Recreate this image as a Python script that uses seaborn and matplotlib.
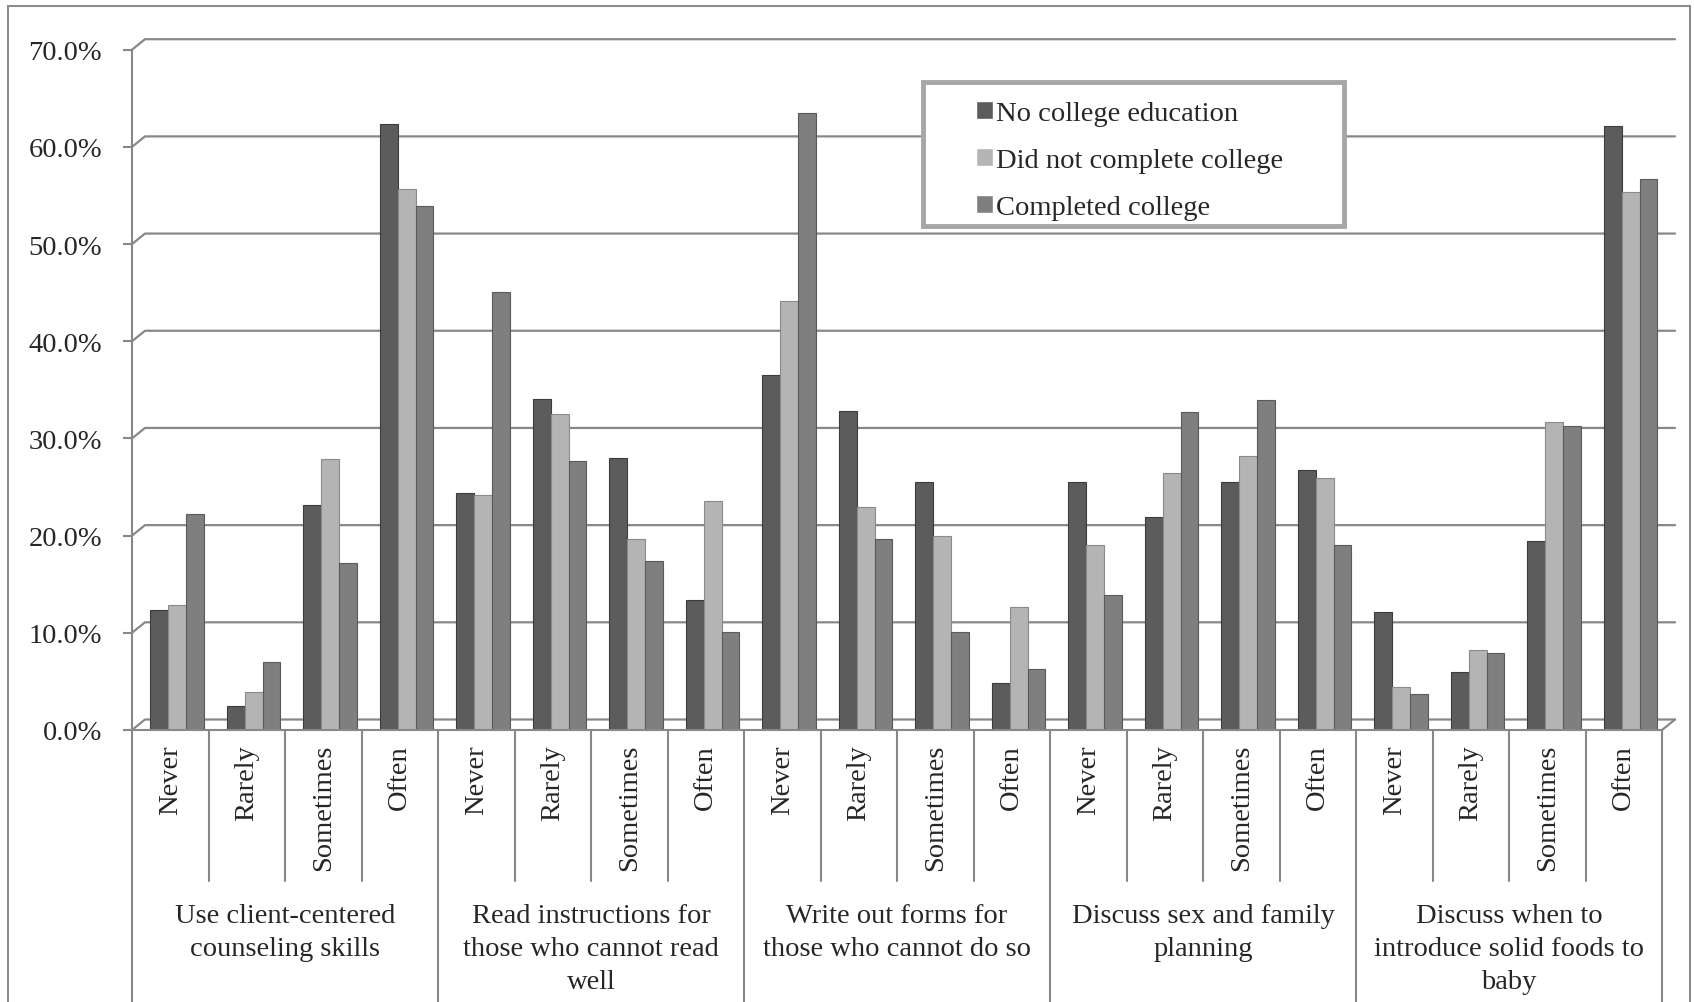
import numpy as np
import pandas as pd
import matplotlib
matplotlib.use("Agg")
import matplotlib.pyplot as plt
import seaborn as sns
from matplotlib.patches import Rectangle
from matplotlib.ticker import FuncFormatter, MultipleLocator

items = [
    "Use client-centered\ncounseling skills",
    "Read instructions for\nthose who cannot read\nwell",
    "Write out forms for\nthose who cannot do so",
    "Discuss sex and family\nplanning",
    "Discuss when to\nintroduce solid foods to\nbaby",
]
freqs = ["Never", "Rarely", "Sometimes", "Often"]
series = ["No college education", "Did not complete college", "Completed college"]

# percentages, 4 answers per item in the order of freqs
no_college = [12.3, 2.5, 23.2, 62.4, 24.4, 34.1, 28.0, 13.4, 36.5, 32.8, 25.5, 4.8,
              25.5, 21.9, 25.5, 26.8, 12.1, 6.0, 19.4, 62.2]
did_not_complete = [12.9, 3.9, 27.9, 55.7, 24.2, 32.5, 19.7, 23.6, 44.1, 22.9, 20.0, 12.7,
                    19.0, 26.4, 28.2, 25.9, 4.4, 8.2, 31.7, 55.4]
completed = [22.2, 7.0, 17.2, 53.9, 45.1, 27.7, 17.4, 10.1, 63.5, 19.7, 10.1, 6.3,
             13.9, 32.7, 34.0, 19.0, 3.7, 7.9, 31.3, 56.7]

rows = []
for k in range(len(items) * len(freqs)):
    for s, vals in zip(series, [no_college, did_not_complete, completed]):
        rows.append({"slot": k, "value": vals[k], "series": s})
df = pd.DataFrame(rows)

sns.set_style("white")
plt.rcParams["font.family"] = ["Liberation Serif", "DejaVu Serif"]

W, H = 1694, 1003
fig = plt.figure(figsize=(W / 100, H / 100), dpi=100)
y0, y70 = 731, 50.7
x_left, x_right = 132, 1662
ax = fig.add_axes([x_left / W, (H - y0) / H, (x_right - x_left) / W, (y0 - y70) / H])
ppu = (y0 - y70) / 70.0


def ay(py):
    return (y0 - py) / (y0 - y70)


gc = "#888888"
colors = ["#5c5c5c", "#b4b4b4", "#7f7f7f"]
edges = ["#3c3c3c", "#8a8a8a", "#5a5a5a"]

sns.barplot(data=df, x="slot", y="value", hue="series", hue_order=series,
            palette=colors, saturation=1, width=0.7, ax=ax, zorder=2)
for cont, ec in zip(ax.containers, edges):
    for p in cont:
        p.set_edgecolor(ec)
        p.set_linewidth(0.8)

handles, labels = ax.get_legend_handles_labels()
ax.get_legend().remove()

s = 0.09
ax.set_xlim(-0.5 - s, 19.5 - s)
ax.set_ylim(0, 70)
ax.set_xticks([])
ax.set_xlabel("")
ax.set_ylabel("")
ax.yaxis.set_major_locator(MultipleLocator(10))
ax.yaxis.set_major_formatter(FuncFormatter(lambda v, _: f"{v:.1f}%"))
ax.tick_params(axis="y", left=True, length=6.5, width=1.5, color=gc, pad=15, labelsize=20.5)
for sp in ["top", "right"]:
    ax.spines[sp].set_visible(False)
for sp in ["left", "bottom"]:
    ax.spines[sp].set_color(gc)
    ax.spines[sp].set_linewidth(1.5)

# back wall gridlines with the little 3-D slant
tr = ax.get_yaxis_transform()
dx = 13 / (x_right - x_left)
dy = 10.5 / ppu
for v in range(0, 80, 10):
    ax.plot([0, dx, 1 + dx], [v, v + dy, v + dy], transform=tr, color=gc, lw=1.6,
            clip_on=False, zorder=0.5)
ax.plot([1, 1 + dx], [0, dy], transform=tr, color=gc, lw=1.6, clip_on=False, zorder=0.5)

# category boxes under the floor
xt = ax.get_xaxis_transform()
for b in range(21):
    xb = b - 0.5 - s
    yend = ay(1003) if b % 4 == 0 else ay(882)
    ax.plot([xb, xb], [0, yend], transform=xt, color=gc, lw=1.5, clip_on=False)
for k in range(20):
    ax.text(k - s, ay(745), freqs[k % 4], transform=xt, rotation=90, ha="center",
            va="top", fontsize=20.5)
for g, item in enumerate(items):
    ax.text(4 * g + 1.5 - s, ay(904), item, transform=xt, ha="center", va="top",
            fontsize=20.5, linespacing=1.42)

# outer chart border
fig.patches.append(Rectangle((8 / W, -0.01), (1690 - 8) / W, (H - 7) / H + 0.01,
                             transform=fig.transFigure, fill=False,
                             edgecolor="#8c8c8c", lw=1.5))
# legend frame
fig.patches.append(Rectangle((923 / W, 1 - 227 / H), 421 / W, 144 / H,
                             transform=fig.transFigure, facecolor="white",
                             edgecolor="#a6a6a6", lw=3.5, zorder=3))
fig.legend(handles, labels, loc="upper left", bbox_to_anchor=(950 / W, 1 - 76 / H),
           frameon=False, fontsize=20.5, handlelength=0.62, handleheight=0.62,
           handletextpad=0.1, labelspacing=0.77, borderpad=0.4)

fig.savefig("out.png", dpi=100)
